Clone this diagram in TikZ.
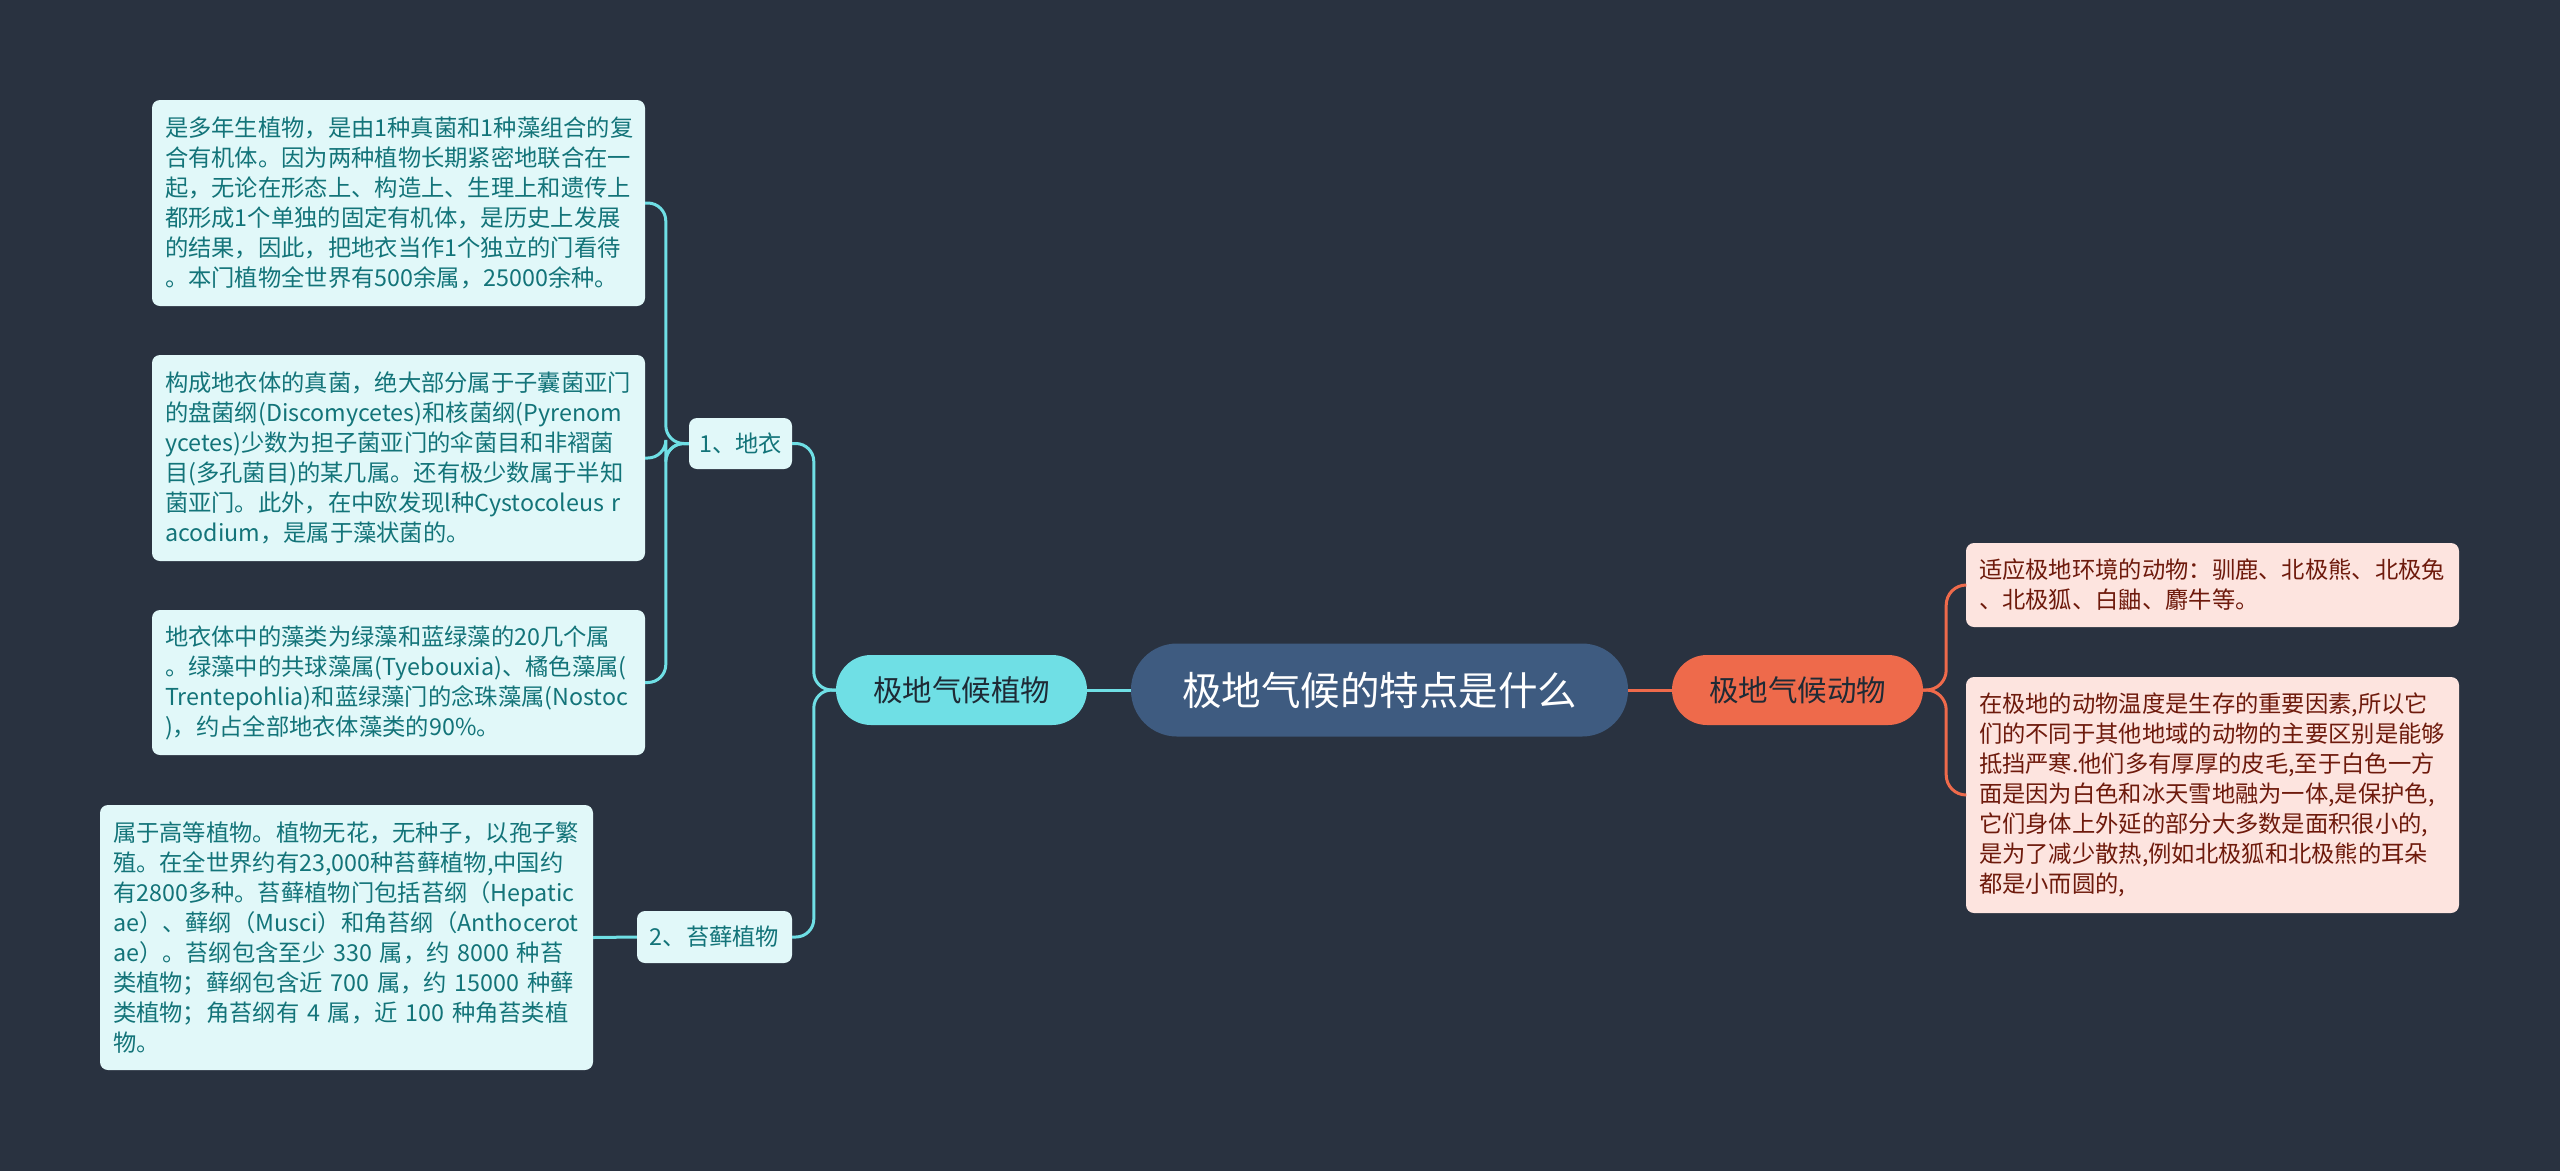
\documentclass[tikz,border=0pt]{standalone}
\usepackage{fontspec}
\setmainfont{Noto Sans CJK SC}
\definecolor{bgc}{HTML}{293240}
\definecolor{cblue}{HTML}{3E5B80}
\definecolor{cyanc}{HTML}{6FDFE5}
\definecolor{leafc}{HTML}{E1F8F9}
\definecolor{tealtxt}{HTML}{137479}
\definecolor{coral}{HTML}{EE6A4B}
\definecolor{pinkc}{HTML}{FDE4DF}
\definecolor{redtxt}{HTML}{6E1A0C}
\definecolor{darktxt}{HTML}{1E2A35}
\begin{document}
\begin{tikzpicture}[x=1pt,y=-1pt,
  central/.style={fill=cblue,text=white,rounded corners=46pt,minimum width=497pt,minimum height=93pt,inner sep=0pt,font=\fontsize{39.5}{46}\selectfont},
  mainbr/.style={rounded corners=35pt,minimum width=251pt,minimum height=70pt,inner sep=0pt,font=\fontsize{29.5}{36}\selectfont},
  midbr/.style={fill=leafc,text=tealtxt,rounded corners=8pt,minimum height=51pt,inner sep=0pt,font=\fontsize{23.3}{30}\selectfont},
  leafbox/.style={rounded corners=8pt,align=left,text width=467pt,inner xsep=13pt,inner ysep=0pt,font=\fontsize{23.3}{30}\selectfont},
  pleaf/.style={leafbox,fill=leafc,text=tealtxt},
  aleaf/.style={leafbox,fill=pinkc,text=redtxt},
  pline/.style={draw=cyanc,line width=3pt,rounded corners=18pt},
  aline/.style={draw=coral,line width=3pt,rounded corners=20pt}]
\fill[bgc] (0,0) rectangle (2560,1171);
\useasboundingbox (0,0) rectangle (2560,1171);

\node[central] (c) at (1379.5,690) {极地气候的特点是什么};
\node[mainbr,fill=cyanc,text=darktxt] (plant) at (961.5,690) {极地气候植物};
\node[mainbr,fill=coral,text=darktxt] (animal) at (1797.5,690) {极地气候动物};

\node[midbr,minimum width=103pt] (lichen) at (740.5,443.5) {1、地衣};
\node[midbr,minimum width=155pt,minimum height=52pt] (moss) at (714.5,937) {2、苔藓植物};

\node[pleaf,minimum height=206pt] (L1) at (398.5,203) {是多年生植物，是由1种真菌和1种藻组合的复\\合有机体。因为两种植物长期紧密地联合在一\\起，无论在形态上、构造上、生理上和遗传上\\都形成1个单独的固定有机体，是历史上发展\\的结果，因此，把地衣当作1个独立的门看待\\。本门植物全世界有500余属，25000余种。};
\node[pleaf,minimum height=206pt] (L2) at (398.5,458) {构成地衣体的真菌，绝大部分属于子囊菌亚门\\的盘菌纲(Discomycetes)和核菌纲(Pyrenom\\ycetes)少数为担子菌亚门的伞菌目和非褶菌\\目(多孔菌目)的某几属。还有极少数属于半知\\菌亚门。此外，在中欧发现l种Cystocoleus r\\acodium，是属于藻状菌的。};
\node[pleaf,minimum height=145pt] (L3) at (398.5,682.5) {地衣体中的藻类为绿藻和蓝绿藻的20几个属\\。绿藻中的共球藻属(Tyebouxia)、橘色藻属(\\Trentepohlia)和蓝绿藻门的念珠藻属(Nostoc\\)，约占全部地衣体藻类的90\%。};
\node[pleaf,minimum height=265pt] (L4) at (346.5,937.5) {属于高等植物。植物无花，无种子，以孢子繁\\殖。在全世界约有23,000种苔藓植物,中国约\\有2800多种。苔藓植物门包括苔纲（Hepatic\\ae）、藓纲（Musci）和角苔纲（Anthocerot\\ae）。苔纲包含至少 330 属，约 8000 种苔\\类植物；藓纲包含近 700 属，约 15000 种藓\\类植物；角苔纲有 4 属，近 100 种角苔类植\\物。};

\node[aleaf,minimum height=84pt] (A1) at (2212.5,585) {适应极地环境的动物：驯鹿、北极熊、北极兔\\、北极狐、白鼬、麝牛等。};
\node[aleaf,minimum height=236pt] (A2) at (2212.5,795) {在极地的动物温度是生存的重要因素,所以它\\们的不同于其他地域的动物的主要区别是能够\\抵挡严寒.他们多有厚厚的皮毛,至于白色一方\\面是因为白色和冰天雪地融为一体,是保护色,\\它们身体上外延的部分大多数是面积很小的,\\是为了减少散热,例如北极狐和北极熊的耳朵\\都是小而圆的,};

\draw[pline] (c.west) -- (plant.east);
\draw[pline] (plant.west) -- ++(-22,0) |- (lichen.east);
\draw[pline] (plant.west) -- ++(-22,0) |- (moss.east);
\draw[pline] (lichen.west) -- ++(-23,0) |- (L1.east);
\draw[pline] (lichen.west) -- ++(-23,0) |- (L2.east);
\draw[pline] (lichen.west) -- ++(-23,0) |- (L3.east);
\draw[pline] (moss.west) -- (L4.east);

\draw[aline] (c.east) -- (animal.west);
\draw[aline] (animal.east) -- ++(23,0) |- (A1.west);
\draw[aline] (animal.east) -- ++(23,0) |- (A2.west);
\end{tikzpicture}
\end{document}
